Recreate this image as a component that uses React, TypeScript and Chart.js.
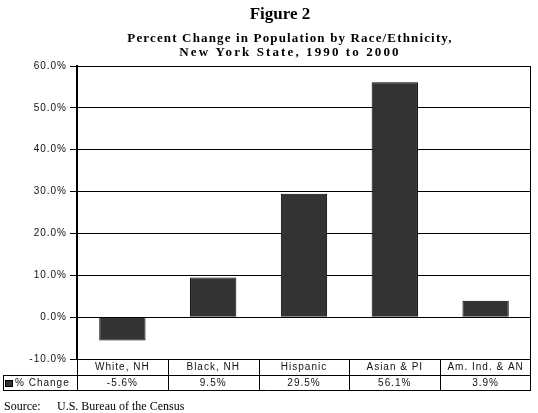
import React, { useEffect, useRef } from 'react';
import { Chart, registerables, Plugin } from 'chart.js';

Chart.register(...registerables);

// data
const categories = ['White, NH', 'Black, NH', 'Hispanic', 'Asian & PI', 'Am. Ind. & AN'];
const pctChange = [-5.6, 9.5, 29.5, 56.1, 3.9];
const seriesName = '% Change';
const yMin = -10;
const yMax = 60;
const yStep = 10;

const figureTitle = 'Figure 2';
const subtitleLines = ['Percent Change in Population by Race/Ethnicity,', 'New York State, 1990 to 2000'];
const sourceLabel = 'Source:';
const sourceText = 'U.S. Bureau of the Census';

const W = 538;
const H = 413;
const SANS = '"Liberation Sans", Arial, sans-serif';
const SERIF = '"Liberation Serif", "Times New Roman", serif';

const App: React.FC = () => {
    const canvasRef = useRef<HTMLCanvasElement | null>(null);

    useEffect(() => {
        if (!canvasRef.current) return;
        const ctx = canvasRef.current.getContext('2d');
        if (!ctx) return;

        // spaced-out sans text like the original print
        const spacingPlugin: Plugin = {
            id: 'spacing',
            beforeDraw(chart) {
                (chart.ctx as any).letterSpacing = '1px';
            }
        };

        // frame, data table, titles and source line
        const tablePlugin: Plugin = {
            id: 'dataTable',
            afterDraw(chart) {
                const c = chart.ctx;
                const ca = chart.chartArea;
                const xs = chart.scales.x;
                const n = categories.length;
                const colW = (ca.right - ca.left) / n;
                const row1 = ca.bottom;
                const row2 = row1 + 16;
                const row3 = row2 + 15;
                const tableLeft = 3;

                c.save();
                c.strokeStyle = '#000';
                c.lineWidth = 1;
                const line = (x1: number, y1: number, x2: number, y2: number) => {
                    c.beginPath();
                    c.moveTo(x1, y1);
                    c.lineTo(x2, y2);
                    c.stroke();
                };
                const L = Math.round(ca.left) + 0.5;
                const R = Math.round(ca.right) - 0.5;
                // plot frame top/right
                line(L, Math.round(ca.top) + 0.5, R, Math.round(ca.top) + 0.5);
                line(R, ca.top, R, row3);
                // table grid
                line(tableLeft + 0.5, row2 + 0.5, R, row2 + 0.5);
                line(tableLeft + 0.5, row3 + 0.5, R + 0.5, row3 + 0.5);
                line(tableLeft + 0.5, row2, tableLeft + 0.5, row3 + 1);
                line(L, row1, L, row3);
                for (let i = 1; i < n; i++) {
                    const bx = Math.round(ca.left + i * colW) + 0.5;
                    line(bx, row1, bx, row3);
                }

                // table text
                (c as any).letterSpacing = '1px';
                c.fillStyle = '#111';
                c.font = `10px ${SANS}`;
                c.textBaseline = 'middle';
                c.textAlign = 'center';
                categories.forEach((cat, i) => {
                    const cx = xs.getPixelForValue(i);
                    c.fillText(cat, cx, row1 + 8.5);
                    c.fillText(`${pctChange[i].toFixed(1)}%`, cx, row2 + 8.5);
                });
                c.fillStyle = '#333';
                c.fillRect(5, row2 + 5, 8, 7);
                c.strokeRect(5.5, row2 + 5.5, 7, 6);
                c.fillStyle = '#111';
                c.textAlign = 'left';
                c.fillText(seriesName, 15, row2 + 8.5);

                // titles
                c.fillStyle = '#000';
                c.textBaseline = 'alphabetic';
                c.textAlign = 'center';
                (c as any).letterSpacing = '0px';
                c.font = `bold 17px ${SERIF}`;
                c.fillText(figureTitle, 280, 19);
                c.font = `bold 13px ${SERIF}`;
                (c as any).letterSpacing = '1.15px';
                c.fillText(subtitleLines[0], 290, 42);
                (c as any).letterSpacing = '2.1px';
                c.fillText(subtitleLines[1], 290, 56);

                // source
                (c as any).letterSpacing = '0px';
                c.textAlign = 'left';
                c.font = `12px ${SERIF}`;
                c.fillText(sourceLabel, 4, 410);
                c.fillText(sourceText, 57, 410);
                c.restore();
            }
        };

        const chartInstance = new Chart(ctx, {
            type: 'bar',
            data: {
                labels: categories,
                datasets: [{
                    label: seriesName,
                    data: pctChange,
                    backgroundColor: '#333333',
                    borderColor: '#000',
                    borderWidth: 1,
                    barPercentage: 0.51,
                    categoryPercentage: 1
                }]
            },
            options: {
                responsive: false,
                animation: false,
                devicePixelRatio: 1,
                layout: { padding: { top: 66, right: 7, bottom: 54, left: 0 } },
                plugins: {
                    legend: { display: false },
                    tooltip: { enabled: false },
                    title: { display: false }
                },
                scales: {
                    x: { display: false },
                    y: {
                        min: yMin,
                        max: yMax,
                        afterFit(scale) {
                            scale.width = 77;
                        },
                        ticks: {
                            stepSize: yStep,
                            color: '#111',
                            padding: 3,
                            font: { family: SANS, size: 10 },
                            callback: (v) => `${Number(v).toFixed(1)}%`
                        },
                        grid: { color: '#000', lineWidth: 1, tickLength: 7, drawTicks: true },
                        border: { color: '#000', width: 2 }
                    }
                }
            },
            plugins: [spacingPlugin, tablePlugin]
        });

        return () => {
            chartInstance.destroy();
        };
    }, []);

    return (
        <div style={{ position: 'absolute', left: 0, top: 0, width: W, height: H, background: '#fff' }}>
            <canvas ref={canvasRef} width={W} height={H}></canvas>
        </div>
    );
};

export default App;
